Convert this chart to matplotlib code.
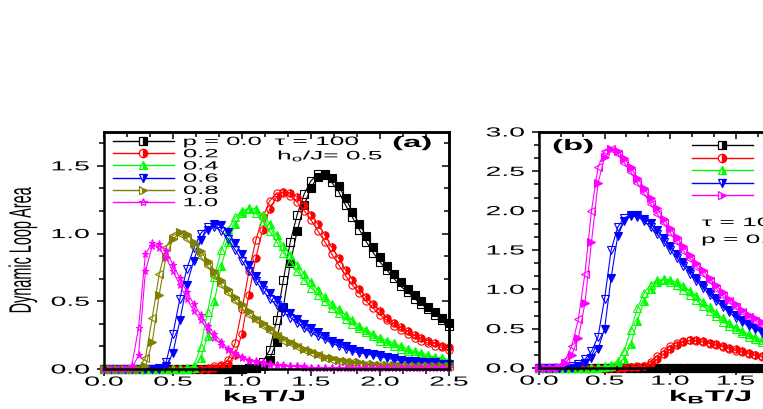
import matplotlib
matplotlib.use("Agg")
import matplotlib.pyplot as plt
from matplotlib.ticker import MultipleLocator, AutoMinorLocator
from matplotlib.patheffects import AbstractPathEffect
from matplotlib.transforms import Affine2D
from matplotlib.lines import Line2D

# ---------------- data ----------------
# panel (a): tau = 100, h0/J = 0.5, several p
T_a = [0.00, 0.05, 0.10, 0.15, 0.20, 0.25, 0.30, 0.35, 0.40, 0.45,
       0.50, 0.55, 0.60, 0.65, 0.70, 0.75, 0.80, 0.85, 0.90, 0.95,
       1.00, 1.05, 1.10, 1.15, 1.20, 1.25, 1.30, 1.35, 1.40, 1.45,
       1.50, 1.55, 1.60, 1.65, 1.70, 1.75, 1.80, 1.85, 1.90, 1.95,
       2.00, 2.05, 2.10, 2.15, 2.20, 2.25, 2.30, 2.35, 2.40, 2.45,
       2.50]
p_labels = ["p = 0.0", "0.2", "0.4", "0.6", "0.8", "1.0"]

a_p00_fill = [0, 0, 0, 0, 0, 0, 0, 0, 0, 0,
              0, 0, 0, 0, 0, 0, 0, 0, 0, 0,
              0.00, 0.005, 0.01, 0.02, 0.07, 0.20, 0.46, 0.78, 1.02, 1.21,
              1.34, 1.42, 1.44, 1.41, 1.35, 1.26, 1.16, 1.07, 0.98, 0.90,
              0.83, 0.76, 0.70, 0.64, 0.59, 0.55, 0.50, 0.46, 0.42, 0.38,
              0.34]
a_p00_open = [0, 0, 0, 0, 0, 0, 0, 0, 0, 0,
              0, 0, 0, 0, 0, 0, 0, 0, 0, 0,
              0.00, 0.01, 0.01, 0.05, 0.14, 0.36, 0.66, 0.94, 1.14, 1.29,
              1.39, 1.44, 1.43, 1.38, 1.31, 1.21, 1.12, 1.03, 0.94, 0.86,
              0.79, 0.73, 0.67, 0.61, 0.57, 0.52, 0.48, 0.44, 0.40, 0.36,
              0.32]
a_p02_fill = [0, 0, 0, 0, 0, 0, 0, 0, 0, 0,
              0, 0, 0, 0, 0, 0.00, 0.01, 0.02, 0.04, 0.10,
              0.26, 0.55, 0.82, 1.03, 1.18, 1.27, 1.31, 1.30, 1.27, 1.21,
              1.14, 1.07, 0.99, 0.90, 0.82, 0.73, 0.66, 0.59, 0.53, 0.48,
              0.43, 0.38, 0.34, 0.31, 0.28, 0.25, 0.23, 0.21, 0.19, 0.17,
              0.16]
a_p02_open = [0, 0, 0, 0, 0, 0, 0, 0, 0, 0,
              0, 0, 0, 0, 0, 0.01, 0.02, 0.03, 0.07, 0.19,
              0.44, 0.72, 0.95, 1.12, 1.24, 1.30, 1.30, 1.28, 1.23, 1.17,
              1.10, 1.02, 0.94, 0.85, 0.77, 0.69, 0.62, 0.56, 0.50, 0.45,
              0.40, 0.36, 0.32, 0.29, 0.26, 0.23, 0.21, 0.19, 0.17, 0.16,
              0.14]
a_p04_fill = [0, 0, 0, 0, 0, 0, 0, 0, 0, 0,
              0, 0, 0.00, 0.01, 0.08, 0.24, 0.50, 0.76, 0.94, 1.07,
              1.15, 1.19, 1.18, 1.14, 1.07, 0.99, 0.91, 0.84, 0.77, 0.70,
              0.64, 0.58, 0.53, 0.48, 0.44, 0.40, 0.36, 0.32, 0.29, 0.26,
              0.23, 0.21, 0.19, 0.17, 0.15, 0.13, 0.12, 0.10, 0.09, 0.08,
              0.07]
a_p04_open = [0, 0, 0, 0, 0, 0, 0, 0, 0, 0,
              0, 0, 0.01, 0.02, 0.16, 0.42, 0.68, 0.88, 1.03, 1.12,
              1.17, 1.18, 1.15, 1.09, 1.02, 0.94, 0.86, 0.79, 0.72, 0.66,
              0.60, 0.55, 0.50, 0.45, 0.41, 0.37, 0.33, 0.30, 0.27, 0.24,
              0.21, 0.19, 0.17, 0.15, 0.13, 0.12, 0.10, 0.09, 0.08, 0.07,
              0.06]
a_p06_fill = [0, 0, 0, 0, 0, 0, 0, 0, 0.00, 0.02,
              0.12, 0.36, 0.62, 0.80, 0.95, 1.03, 1.07, 1.06, 1.01, 0.93,
              0.85, 0.77, 0.69, 0.62, 0.56, 0.51, 0.46, 0.41, 0.37, 0.33,
              0.30, 0.27, 0.24, 0.21, 0.19, 0.17, 0.15, 0.13, 0.12, 0.11,
              0.10, 0.09, 0.08, 0.07, 0.06, 0.06, 0.05, 0.05, 0.05, 0.04,
              0.04]
a_p06_open = [0, 0, 0, 0, 0, 0, 0, 0, 0.01, 0.05,
              0.26, 0.52, 0.74, 0.89, 1.00, 1.05, 1.05, 1.02, 0.96, 0.88,
              0.80, 0.72, 0.65, 0.58, 0.52, 0.47, 0.42, 0.38, 0.34, 0.30,
              0.27, 0.24, 0.22, 0.19, 0.17, 0.15, 0.13, 0.12, 0.11, 0.10,
              0.09, 0.08, 0.07, 0.06, 0.06, 0.05, 0.05, 0.04, 0.04, 0.04,
              0.03]
a_p08_fill = [0, 0, 0, 0, 0, 0.00, 0.02, 0.20, 0.55, 0.83,
              0.96, 1.01, 1.00, 0.94, 0.87, 0.80, 0.72, 0.66, 0.59, 0.53,
              0.48, 0.43, 0.38, 0.34, 0.30, 0.26, 0.23, 0.20, 0.18, 0.15,
              0.13, 0.11, 0.09, 0.08, 0.07, 0.06, 0.05, 0.05, 0.04, 0.04,
              0.03, 0.03, 0.03, 0.02, 0.02, 0.02, 0.02, 0.02, 0.02, 0.02,
              0.02]
a_p08_open = [0, 0, 0, 0, 0, 0.01, 0.08, 0.38, 0.70, 0.90,
              0.99, 1.00, 0.96, 0.90, 0.83, 0.76, 0.69, 0.62, 0.56, 0.50,
              0.45, 0.40, 0.36, 0.32, 0.28, 0.24, 0.21, 0.19, 0.16, 0.14,
              0.12, 0.10, 0.08, 0.07, 0.06, 0.05, 0.05, 0.04, 0.04, 0.03,
              0.03, 0.02, 0.02, 0.02, 0.02, 0.02, 0.02, 0.02, 0.02, 0.02,
              0.02]
a_p10_fill = [0, 0, 0, 0, 0.00, 0.10, 0.72, 0.91, 0.92, 0.87,
              0.77, 0.67, 0.57, 0.48, 0.40, 0.32, 0.26, 0.20, 0.15, 0.12,
              0.09, 0.07, 0.06, 0.05, 0.04, 0.03, 0.03, 0.02, 0.02, 0.02,
              0.01, 0.01, 0.01, 0.01, 0.01, 0.01, 0.01, 0.01, 0.01, 0.01,
              0.01, 0.01, 0.01, 0.01, 0.01, 0.01, 0.01, 0.01, 0.01, 0.01,
              0.01]
a_p10_open = [0, 0, 0, 0, 0.02, 0.30, 0.85, 0.93, 0.89, 0.82,
              0.72, 0.62, 0.52, 0.43, 0.36, 0.29, 0.23, 0.18, 0.14, 0.11,
              0.08, 0.06, 0.05, 0.04, 0.03, 0.03, 0.02, 0.02, 0.02, 0.01,
              0.01, 0.01, 0.01, 0.01, 0.01, 0.01, 0.01, 0.01, 0.01, 0.01,
              0.01, 0.01, 0.01, 0.01, 0.01, 0.01, 0.01, 0.01, 0.01, 0.01,
              0.01]

# panel (b): tau = 100, different h0/J
T_b = [0.00, 0.05, 0.10, 0.15, 0.20, 0.25, 0.30, 0.35, 0.40, 0.45,
       0.50, 0.55, 0.60, 0.65, 0.70, 0.75, 0.80, 0.85, 0.90, 0.95,
       1.00, 1.05, 1.10, 1.15, 1.20, 1.25, 1.30, 1.35, 1.40, 1.45,
       1.50, 1.55, 1.60, 1.65, 1.70, 1.75, 1.80]
h_labels = ["h$_o$/J= 0.1", "0.2", "0.3", "0.4", "0.5"]

b_h1_fill = [0, 0, 0, 0, 0, 0, 0, 0, 0, 0,
             0, 0, 0, 0, 0, 0, 0, 0, 0, 0,
             0, 0, 0, 0, 0, 0, 0, 0, 0, 0,
             0, 0, 0, 0, 0, 0, 0]
b_h1_open = [0, 0, 0, 0, 0, 0, 0, 0, 0, 0,
             0, 0, 0, 0, 0, 0, 0, 0, 0, 0,
             0, 0, 0, 0, 0, 0, 0, 0, 0, 0,
             0, 0, 0, 0, 0, 0, 0]
b_h2_fill = [0, 0, 0, 0, 0, 0, 0, 0, 0, 0,
             0, 0, 0.00, 0.005, 0.01, 0.01, 0.02, 0.05, 0.11, 0.18,
             0.24, 0.29, 0.33, 0.35, 0.35, 0.34, 0.32, 0.30, 0.28, 0.26,
             0.24, 0.21, 0.19, 0.17, 0.15, 0.14, 0.13]
b_h2_open = [0, 0, 0, 0, 0, 0, 0, 0, 0, 0,
             0, 0, 0.00, 0.01, 0.01, 0.02, 0.03, 0.08, 0.15, 0.22,
             0.28, 0.32, 0.34, 0.35, 0.34, 0.33, 0.31, 0.29, 0.27, 0.24,
             0.22, 0.20, 0.18, 0.16, 0.14, 0.13, 0.12]
b_h3_fill = [0, 0, 0, 0, 0, 0, 0, 0, 0, 0.00,
             0.01, 0.02, 0.05, 0.12, 0.30, 0.60, 0.85, 1.00, 1.09, 1.13,
             1.12, 1.09, 1.04, 0.98, 0.91, 0.84, 0.77, 0.70, 0.63, 0.57,
             0.52, 0.47, 0.43, 0.39, 0.36, 0.33, 0.30]
b_h3_open = [0, 0, 0, 0, 0, 0, 0, 0, 0, 0.01,
             0.02, 0.04, 0.09, 0.22, 0.48, 0.76, 0.95, 1.06, 1.12, 1.12,
             1.09, 1.05, 0.99, 0.93, 0.86, 0.79, 0.72, 0.66, 0.59, 0.54,
             0.49, 0.44, 0.40, 0.37, 0.33, 0.30, 0.28]
b_h4_fill = [0, 0, 0, 0, 0, 0, 0.02, 0.06, 0.13, 0.24,
             0.50, 1.15, 1.68, 1.87, 1.93, 1.94, 1.90, 1.84, 1.75, 1.65,
             1.55, 1.45, 1.35, 1.25, 1.15, 1.06, 0.97, 0.89, 0.81, 0.74,
             0.67, 0.61, 0.56, 0.51, 0.47, 0.43, 0.39]
b_h4_open = [0, 0, 0, 0, 0, 0.02, 0.05, 0.11, 0.21, 0.40,
             0.88, 1.50, 1.79, 1.91, 1.94, 1.92, 1.87, 1.79, 1.70, 1.60,
             1.50, 1.40, 1.30, 1.20, 1.11, 1.02, 0.93, 0.85, 0.78, 0.71,
             0.64, 0.58, 0.53, 0.49, 0.45, 0.41, 0.37]
b_h5_fill = [0, 0, 0, 0.01, 0.06, 0.17, 0.38, 0.82, 1.60, 2.35,
             2.68, 2.78, 2.76, 2.67, 2.55, 2.42, 2.29, 2.16, 2.03, 1.90,
             1.78, 1.66, 1.55, 1.44, 1.34, 1.24, 1.14, 1.05, 0.96, 0.88,
             0.81, 0.74, 0.68, 0.63, 0.58, 0.53, 0.49]
b_h5_open = [0, 0, 0, 0.03, 0.10, 0.28, 0.62, 1.20, 2.00, 2.55,
             2.76, 2.78, 2.72, 2.61, 2.49, 2.35, 2.22, 2.09, 1.96, 1.84,
             1.72, 1.60, 1.49, 1.39, 1.29, 1.19, 1.10, 1.01, 0.92, 0.85,
             0.77, 0.71, 0.65, 0.60, 0.55, 0.51, 0.47]

# ---------------- styles ----------------
colors = ["black", "red", "#00ff00", "blue", "#808000", "magenta"]
colors_b = ["black", "red", "#00ff00", "blue", "magenta"]


class Widen(AbstractPathEffect):
    """stretch text horizontally (the original figure is strongly widened)"""
    def __init__(self, sx=2.15, anchor="center"):
        super().__init__()
        self.sx = sx
        self.anchor = anchor

    def draw_path(self, renderer, gc, tpath, affine, rgbFace=None):
        ext = tpath.get_extents(affine)
        if self.anchor == "left":
            x0 = ext.x0
        elif self.anchor == "right":
            x0 = ext.x1
        else:
            x0 = 0.5 * (ext.x0 + ext.x1)
        tr = affine + Affine2D().translate(-x0, 0).scale(self.sx, 1).translate(x0, 0)
        renderer.draw_path(gc, tpath, tr, rgbFace)


plt.rcParams["font.family"] = ["Liberation Sans", "DejaVu Sans"]
plt.rcParams["mathtext.fontset"] = "custom"
plt.rcParams["mathtext.rm"] = "Liberation Sans"
plt.rcParams["mathtext.it"] = "Liberation Sans"
plt.rcParams["mathtext.bf"] = "Liberation Sans:bold"

fig = plt.figure(figsize=(7.63, 4.09), dpi=100)
ax_a = fig.add_axes([104 / 763, 40 / 409, 345 / 763, 237 / 409])
ax_b = fig.add_axes([539 / 763, 41 / 409, 328 / 763, 236 / 409])


def series(ax, T, vals_open, vals_fill, c, m_open, m_fill, fs_fill):
    ax.plot(T, vals_open, "-", color=c, lw=0.8, marker=m_open, ms=5.2,
            mfc="none", mec=c, mew=0.8, clip_on=False)
    ax.plot(T, vals_fill, "-", color=c, lw=0.8, marker=m_fill, ms=5.2,
            mfc=c, mec=c, mew=0.8, fillstyle=fs_fill,
            markerfacecoloralt="none", clip_on=False)


# panel (a)
a_open = [a_p00_open, a_p02_open, a_p04_open, a_p06_open, a_p08_open, a_p10_open]
a_fill = [a_p00_fill, a_p02_fill, a_p04_fill, a_p06_fill, a_p08_fill, a_p10_fill]
mk_open_a = ["s", "o", "^", "v", "<", "*"]
mk_fill_a = ["s", "o", "^", "v", ">", "*"]
fs_a = ["full", "right", "right", "full", "full", "full"]
for i in range(6):
    series(ax_a, T_a, a_open[i], a_fill[i], colors[i],
           mk_open_a[i], mk_fill_a[i], fs_a[i])

# panel (b)
b_open = [b_h1_open, b_h2_open, b_h3_open, b_h4_open, b_h5_open]
b_fill = [b_h1_fill, b_h2_fill, b_h3_fill, b_h4_fill, b_h5_fill]
mk_open_b = ["s", "o", "^", "v", "<"]
mk_fill_b = ["s", "o", "^", "v", ">"]
fs_b = ["full", "right", "right", "full", "full"]
for i in range(5):
    series(ax_b, T_b, b_open[i], b_fill[i], colors_b[i],
           mk_open_b[i], mk_fill_b[i], fs_b[i])

ax_a.set_xlim(0, 2.5)
ax_a.set_ylim(0, 1.75)
ax_b.set_xlim(0, 2.5)
ax_b.set_ylim(0, 3.0)

for ax in (ax_a, ax_b):
    ax.xaxis.set_major_locator(MultipleLocator(0.5))
    ax.yaxis.set_major_locator(MultipleLocator(0.5))
    ax.xaxis.set_minor_locator(AutoMinorLocator(3))
    ax.yaxis.set_minor_locator(AutoMinorLocator(3))
    for s in ax.spines.values():
        s.set_linewidth(1.8)
    ax.tick_params(which="both", direction="out", width=1.1, labelsize=9.5)
    ax.tick_params(which="major", length=5)
    ax.tick_params(which="minor", length=3.5)
    ax.tick_params(axis="x", pad=0.5)
    ax.tick_params(axis="y", pad=5.5)
    # inward ticks on top and right
    top = ax.secondary_xaxis("top")
    top.xaxis.set_major_locator(MultipleLocator(0.5))
    top.xaxis.set_minor_locator(AutoMinorLocator(3))
    top.tick_params(which="both", direction="in", width=1.1, labeltop=False)
    top.tick_params(which="major", length=5)
    top.tick_params(which="minor", length=3.5)
    top.spines["top"].set_linewidth(1.8)
    right = ax.secondary_yaxis("right")
    right.yaxis.set_major_locator(MultipleLocator(0.5))
    right.yaxis.set_minor_locator(AutoMinorLocator(3))
    right.tick_params(which="both", direction="in", width=1.1, labelright=False)
    right.tick_params(which="major", length=5)
    right.tick_params(which="minor", length=3.5)
    right.spines["right"].set_linewidth(1.8)

ax_a.set_ylabel("Dynamic Loop Area", fontsize=10.4, va="center")
ax_a.yaxis.set_label_coords((22.5 - 104) / 345, 0.5)
ax_a.set_xlabel("k$_\\mathbf{B}$T/J", fontsize=11, fontweight="bold", va="top")
ax_a.xaxis.set_label_coords((265 - 104) / 345, (369 - 388) / 237)
ax_b.set_xlabel("k$_\\mathbf{B}$T/J", fontsize=11, fontweight="bold", va="top")
ax_b.xaxis.set_label_coords((711 - 539) / 328, (368 - 388) / 236)

# legends
def legend_handles(cols, m_fill, m_open):
    hs = []
    for c, mf, mo in zip(cols, m_fill, m_open):
        if mf == "*":
            hs.append(Line2D([], [], color=c, lw=1, marker="*", ms=6,
                             mfc="none", mec=c, mew=0.9))
        else:
            hs.append(Line2D([], [], color=c, lw=1, marker=mf, ms=6,
                             mfc=c, mec=c, mew=0.9, fillstyle="right",
                             markerfacecoloralt="white"))
    return hs


leg_a = ax_a.legend(legend_handles(colors, mk_fill_a, mk_open_a), p_labels,
                    loc="upper left", bbox_to_anchor=((113 - 104) / 345, (369 - 136) / 237),
                    frameon=False, fontsize=8.6, borderpad=0, borderaxespad=0,
                    handlelength=5.1, handletextpad=0.8, labelspacing=0.02)
leg_b = ax_b.legend(legend_handles(colors_b, mk_fill_b, mk_open_b), h_labels,
                    loc="upper left", bbox_to_anchor=((692 - 539) / 328, (368 - 138) / 236),
                    frameon=False, fontsize=8.6, borderpad=0, borderaxespad=0,
                    handlelength=5.1, handletextpad=0.8, labelspacing=0.02)

txt = []
txt.append(ax_a.text((275 - 104) / 345, (369 - 142) / 237, "τ = 100",
                     transform=ax_a.transAxes, fontsize=8.8, va="center"))
txt.append(ax_a.text((278 - 104) / 345, (369 - 156) / 237, "h$_o$/J= 0.5",
                     transform=ax_a.transAxes, fontsize=8.8, va="center"))
txt.append(ax_a.text((393 - 104) / 345, (369 - 143) / 237, "(a)",
                     transform=ax_a.transAxes, fontsize=11, fontweight="bold", va="center"))
txt.append(ax_b.text((553 - 539) / 328, (368 - 146) / 236, "(b)",
                     transform=ax_b.transAxes, fontsize=11, fontweight="bold", va="center"))
txt.append(ax_b.text((702 - 539) / 328, (368 - 223) / 236, "τ = 100",
                     transform=ax_b.transAxes, fontsize=8.8, va="center"))
txt.append(ax_b.text((702 - 539) / 328, (368 - 240) / 236, "p = 0.0",
                     transform=ax_b.transAxes, fontsize=8.8, va="center"))

# widen every text after the ticks exist
fig.canvas.draw()
for ax in (ax_a, ax_b):
    for lab in ax.xaxis.get_ticklabels(which="both"):
        lab.set_path_effects([Widen(anchor="center")])
    for lab in ax.yaxis.get_ticklabels(which="both"):
        lab.set_path_effects([Widen(anchor="right")])
    ax.xaxis.label.set_path_effects([Widen(anchor="center")])
ax_a.yaxis.label.set_path_effects([Widen(anchor="center")])
for leg in (leg_a, leg_b):
    for t in leg.get_texts():
        t.set_path_effects([Widen(anchor="left")])
for t in txt:
    t.set_path_effects([Widen(anchor="left")])

fig.savefig("out.png", dpi=100)
